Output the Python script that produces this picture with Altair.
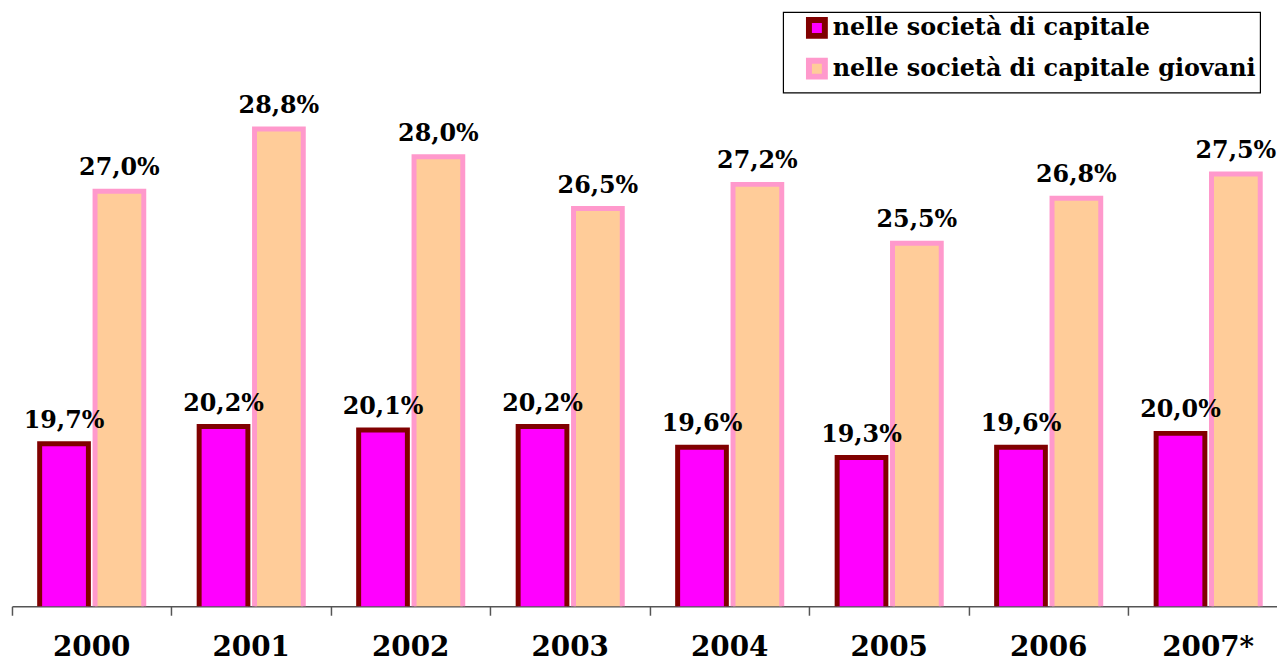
import altair as alt
import pandas as pd

anni = ["2000", "2001", "2002", "2003", "2004", "2005", "2006", "2007*"]
capitale = [19.7, 20.2, 20.1, 20.2, 19.6, 19.3, 19.6, 20.0]
giovani = [27.0, 28.8, 28.0, 26.5, 27.2, 25.5, 26.8, 27.5]
serie = ["nelle società di capitale", "nelle società di capitale giovani"]

rows = []
for a, c, g in zip(anni, capitale, giovani):
    for s, v in zip(serie, [c, g]):
        rows.append({"anno": a, "serie": s, "valore": v,
                     "etichetta": f"{v:.1f}".replace(".", ",") + "%"})
df = pd.DataFrame(rows)

FONT = "DejaVu Serif"

x = alt.X("anno:N", sort=anni, title=None,
          scale=alt.Scale(paddingInner=0, paddingOuter=0, range=[0, 1284]),
          axis=alt.Axis(labelAngle=0, bandPosition=0, labelFont=FONT, labelFontSize=28,
                        labelFontWeight="bold", labelColor="black", labelPadding=19,
                        labelBaseline="top",
                        domainColor="#555555", tickColor="#555555", tickSize=9,
                        domainWidth=1.5, tickWidth=1.5))
xo = alt.XOffset("serie:N", sort=serie,
                 scale=alt.Scale(paddingOuter=0.5, paddingInner=0.12))
y = alt.Y("valore:Q", scale=alt.Scale(domain=[15, 30], zero=False, nice=False),
          axis=None)

leg = alt.Legend(title=None)

bars = alt.Chart(df).mark_bar(strokeWidth=5, clip=True).encode(
    x=x, xOffset=xo, y=y,
    fill=alt.Fill("serie:N", sort=serie, legend=leg,
                  scale=alt.Scale(domain=serie, range=["#FF00FF", "#FFCC99"])),
    stroke=alt.Stroke("serie:N", sort=serie, legend=leg,
                      scale=alt.Scale(domain=serie, range=["#800000", "#FF99CC"])),
)

labels = alt.Chart(df).mark_text(dy=-16, baseline="alphabetic", font=FONT, fontSize=24,
                                 fontWeight="bold", color="black").encode(
    x=x, xOffset=xo, y=y, text="etichetta:N")

chart = (bars + labels).properties(
    width=1273, height=522,
    autosize=alt.AutoSizeParams(type="none"),
    padding={"left": 4, "top": 78, "right": 0, "bottom": 54},
).configure_view(stroke=None).configure_legend(
    orient="none", legendX=776, legendY=-76,
    strokeColor="black", strokeWidth=1.2, padding=4,
    labelFont=FONT, labelFontSize=24, labelFontWeight="bold", labelColor="black",
    symbolType="square", symbolSize=256, symbolStrokeWidth=6, symbolOffset=18,
    rowPadding=1, labelOffset=4, labelLimit=700,
)

chart.save("out.html", embed_options={"renderer": "svg", "actions": False})
